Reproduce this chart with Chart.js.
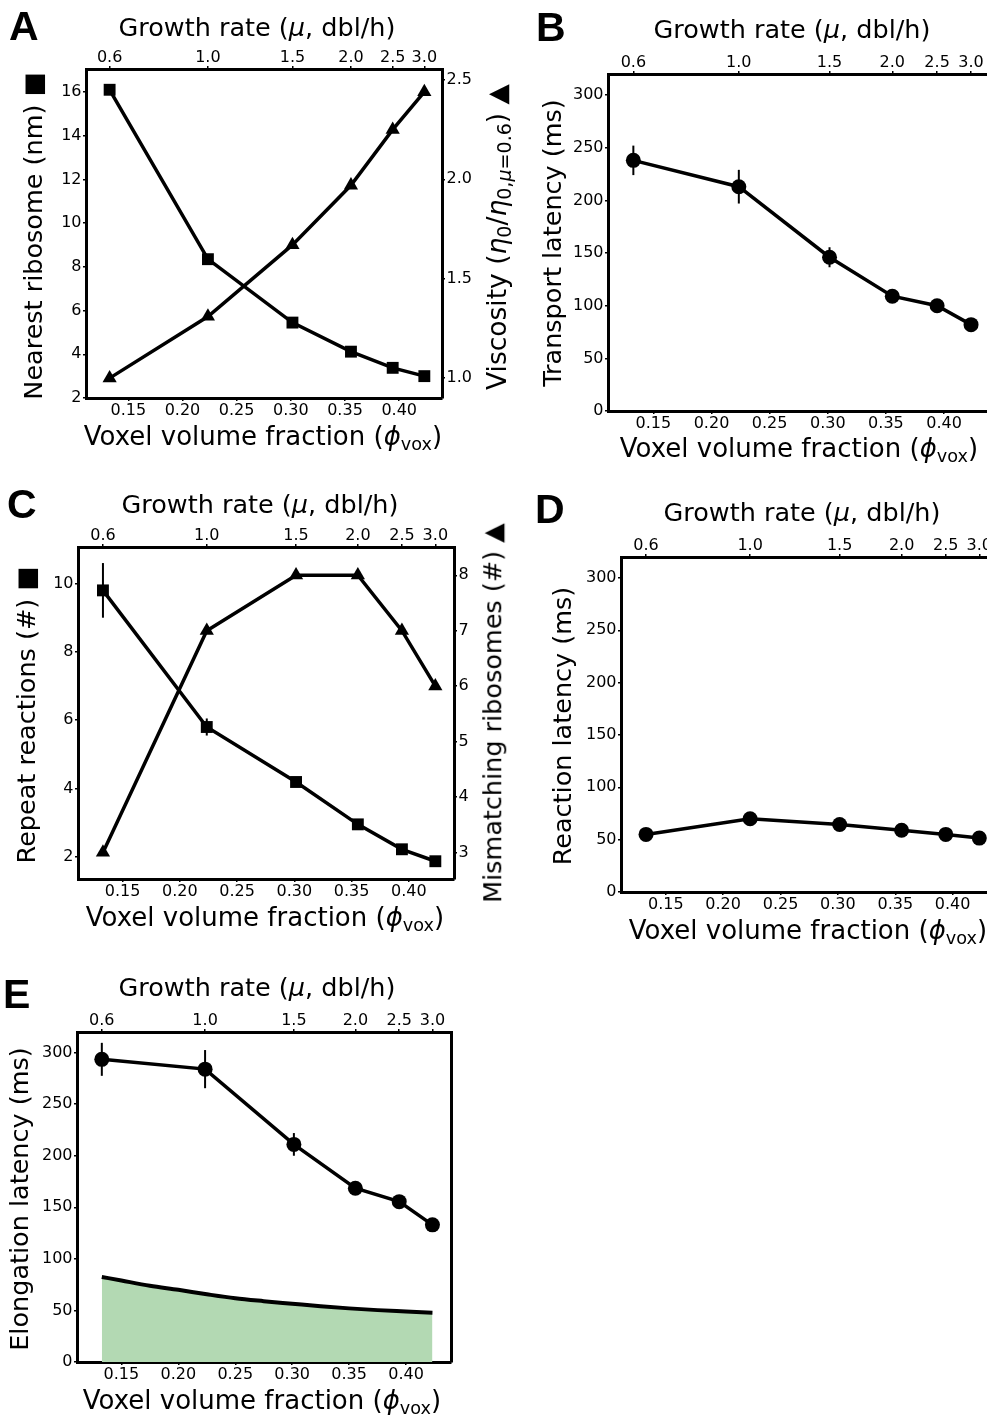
<!DOCTYPE html>
<html><head><meta charset="utf-8">
<script src="https://cdn.jsdelivr.net/npm/chart.js@4.4.1/dist/chart.umd.min.js"></script>
<style>
html,body{margin:0;padding:0;background:#fff;}
body{width:987px;height:1417px;overflow:hidden;position:relative;}
canvas{position:absolute;}
.t{position:absolute;font-family:"DejaVu Sans";font-size:25.5px;color:#000;white-space:nowrap;transform:translate(-50%,-50%);line-height:1;}
.t.r{transform:translate(-50%,-50%) rotate(-90deg);}
.L{position:absolute;font-family:"Liberation Sans";font-weight:bold;font-size:41px;line-height:1;color:#000;}
sub{font-size:0.68em;vertical-align:-0.28em;line-height:0;}
.big sub{font-size:0.72em;}
</style></head>
<body>
<script>
// ---------------- data ----------------
const phi = [0.1328, 0.2235, 0.3015, 0.3555, 0.394, 0.4232];          // voxel volume fraction
const growthTicks = ['0.6', '1.0', '1.5', '2.0', '2.5', '3.0'];       // growth rate labels (top axis)
const phiTicks = [0.15, 0.20, 0.25, 0.30, 0.35, 0.40];                // bottom axis ticks
const nearestRibosome = [16.1, 8.35, 5.45, 4.12, 3.38, 3.0];
const viscosity = [1.0, 1.31, 1.67, 1.97, 2.25, 2.44];
const transportLatency = [238, 213, 146, 109, 100, 82];
const transportErr = [14, 16, 9.5, 3, 3, 2];
const repeatReactions = [9.8, 5.8, 4.19, 2.95, 2.22, 1.87];
const repeatErr = [0.8, 0.25, 0.1, 0.08, 0.05, 0.05];
const mismatching = [3, 7, 8, 8, 7, 6];
const reactionLatency = [55, 70, 64.5, 59, 55, 51.5];
const elongationLatency = [293.5, 284, 211, 168.5, 155.5, 133];
const elongationErr = [16, 18.5, 11, 5, 3, 2];
const limitPhi = [0.1328, 0.15, 0.175, 0.20, 0.225, 0.25, 0.275, 0.30, 0.325, 0.35, 0.375, 0.40, 0.4232];
const limitLatency = [82.5, 79, 74, 70, 65.7, 61.8, 59, 56.5, 54, 52, 50.3, 49, 47.8];
const ticksA_left = [2, 4, 6, 8, 10, 12, 14, 16];
const ticksA_right = [1.0, 1.5, 2.0, 2.5];
const ticksC_left = [2, 4, 6, 8, 10];
const ticksC_right = [3, 4, 5, 6, 7, 8];
const ticksLatency = [0, 50, 100, 150, 200, 250, 300];

// ---------------- helpers ----------------
const X_MIN = 0.111, X_MAX = 0.4395;
const PAD = {L: 70, R: 60, T: 45, B: 35};
const tickFont = {family: "'DejaVu Sans'", size: 16};
const BLACK = '#000';

function pts(xs, ys) { return xs.map((x, i) => ({x: x, y: ys[i]})); }

const errorBarPlugin = {
  id: 'errbars',
  afterDatasetsDraw(chart) {
    const ctx = chart.ctx;
    chart.data.datasets.forEach(ds => {
      if (!ds.errorBars) return;
      const xs = chart.scales[ds.xAxisID || 'x'], ys = chart.scales[ds.yAxisID || 'y'];
      ctx.save();
      ctx.strokeStyle = BLACK; ctx.lineWidth = 2;
      ds.data.forEach((p, j) => {
        const e = ds.errorBars[j];
        const x = xs.getPixelForValue(p.x);
        ctx.beginPath();
        ctx.moveTo(x, ys.getPixelForValue(p.y - e));
        ctx.lineTo(x, ys.getPixelForValue(p.y + e));
        ctx.stroke();
      });
      ctx.restore();
    });
  }
};

function gridOpts(show) {
  return {drawOnChartArea: false, drawTicks: show, tickLength: 3, color: BLACK, lineWidth: 1.5};
}
const border = {display: true, color: BLACK, width: 3};

function xBottom() {
  return {type: 'linear', position: 'bottom', min: X_MIN, max: X_MAX,
    afterBuildTicks: s => { s.ticks = phiTicks.map(v => ({value: v})); },
    afterFit: s => { s.height = PAD.B; },
    ticks: {font: tickFont, color: BLACK, maxRotation: 0, minRotation: 0, autoSkip: false, padding: 0,
      callback: v => Number(v).toFixed(2)},
    grid: gridOpts(true), border: border};
}
function xTop() {
  return {type: 'linear', position: 'top', min: X_MIN, max: X_MAX,
    afterBuildTicks: s => { s.ticks = phi.map(v => ({value: v})); },
    afterFit: s => { s.height = PAD.T; },
    ticks: {font: tickFont, color: BLACK, maxRotation: 0, minRotation: 0, autoSkip: false, padding: -1.5,
      callback: (v, i) => growthTicks[i]},
    grid: gridOpts(true), border: border};
}
function yAxis(pos, min, max, tickVals, fmt) {
  return {type: 'linear', position: pos, min: min, max: max,
    afterBuildTicks: s => { s.ticks = tickVals.map(v => ({value: v})); },
    afterFit: s => { s.width = pos === 'left' ? PAD.L : PAD.R; },
    ticks: {font: tickFont, color: BLACK, padding: pos === 'left' ? 1.5 : 1.5, autoSkip: false, callback: fmt},
    grid: gridOpts(true), border: border};
}
function yDummyRight() {
  return {type: 'linear', position: 'right', min: 0, max: 1,
    afterFit: s => { s.width = PAD.R; },
    ticks: {display: false}, grid: gridOpts(false), border: border};
}
function lineDs(data, style, radius, extra) {
  return Object.assign({data: data, borderColor: BLACK, borderWidth: 3.5, backgroundColor: BLACK,
    pointBackgroundColor: BLACK, pointBorderColor: BLACK, pointBorderWidth: 0,
    pointStyle: style, pointRadius: radius, fill: false, tension: 0}, extra || {});
}

function panel(box, datasets, scales) {
  const c = document.createElement('canvas');
  const w = box.R - box.L + PAD.L + PAD.R, h = box.B - box.T + PAD.T + PAD.B;
  c.width = w; c.height = h;
  c.style.left = (box.L - PAD.L) + 'px'; c.style.top = (box.T - PAD.T) + 'px';
  c.style.width = w + 'px'; c.style.height = h + 'px';
  document.body.appendChild(c);
  new Chart(c, {
    type: 'line',
    data: {datasets: datasets},
    options: {responsive: false, animation: false, devicePixelRatio: 1,
      layout: {padding: 0},
      plugins: {legend: {display: false}, tooltip: {enabled: false}},
      scales: scales},
    plugins: [errorBarPlugin]
  });
}
function txt(html, x, y, rot, size, extraCls) {
  const d = document.createElement('div');
  d.className = 't' + (rot ? ' r' : '') + (extraCls ? ' ' + extraCls : '');
  d.innerHTML = html;
  d.style.left = x + 'px'; d.style.top = y + 'px';
  if (size) d.style.fontSize = size + 'px';
  document.body.appendChild(d);
}

const f1 = v => Number(v).toFixed(1);
const f0 = v => String(v);

// ---------------- Panel A ----------------
panel({L: 86, R: 442, T: 69, B: 398}, [
  lineDs(pts(phi, nearestRibosome), 'rect', 8.4, {yAxisID: 'y'}),
  lineDs(pts(phi, viscosity), 'triangle', 8.2, {yAxisID: 'y2'})
], {x: xBottom(), xTop: xTop(),
    y: yAxis('left', 2, 17.05, ticksA_left, f0),
    y2: yAxis('right', 0.9, 2.555, ticksA_right, f1)});

// ---------------- Panel B ----------------
panel({L: 608, R: 990, T: 74, B: 411}, [
  lineDs(pts(phi, transportLatency), 'circle', 7.5, {errorBars: transportErr})
], {x: xBottom(), xTop: xTop(), y: yAxis('left', 0, 320, ticksLatency, f0), yR: yDummyRight()});

// ---------------- Panel C ----------------
panel({L: 78, R: 454, T: 547, B: 879}, [
  lineDs(pts(phi, repeatReactions), 'rect', 8.4, {yAxisID: 'y', errorBars: repeatErr}),
  lineDs(pts(phi, mismatching), 'triangle', 8.2, {yAxisID: 'y2'})
], {x: xBottom(), xTop: xTop(),
    y: yAxis('left', 1.35, 11.07, ticksC_left, f0),
    y2: yAxis('right', 2.52, 8.51, ticksC_right, f0)});

// ---------------- Panel D ----------------
panel({L: 621, R: 998, T: 557, B: 892}, [
  lineDs(pts(phi, reactionLatency), 'circle', 7.5)
], {x: xBottom(), xTop: xTop(), y: yAxis('left', 0, 320, ticksLatency, f0), yR: yDummyRight()});

// ---------------- Panel E ----------------
panel({L: 77, R: 451, T: 1032, B: 1362}, [
  lineDs(pts(phi, elongationLatency), 'circle', 7.5, {errorBars: elongationErr}),
  lineDs(pts(limitPhi, limitLatency), 'circle', 0, {fill: 'origin', backgroundColor: 'rgb(179,217,179)',
    borderWidth: 4, cubicInterpolationMode: 'monotone'})
], {x: xBottom(), xTop: xTop(), y: yAxis('left', 0, 320, ticksLatency, f0), yR: yDummyRight()});

// ---------------- Text ----------------
const GR = 'Growth rate (<i>μ</i>, dbl/h)';
const VF = 'Voxel volume fraction (<i>ϕ</i><sub>vox</sub>)';
txt(GR, 257, 28); txt(VF, 263, 436, false, 26);
txt('Nearest ribosome (nm) ■', 34, 236, true);
txt('Viscosity (<i>η</i><sub>0</sub>/<i>η</i><sub>0,<i>μ</i>=0.6</sub>) ▲', 497, 237, true, 26.5, 'big');
txt(GR, 792, 30); txt(VF, 799, 448, false, 26);
txt('Transport latency (ms)', 553, 243, true);
txt(GR, 260, 505); txt(VF, 265, 917, false, 26);
txt('Repeat reactions (#) ■', 27, 715, true);
txt('Mismatching ribosomes (#) ▲', 493, 713, true);
txt(GR, 802, 513); txt(VF, 808, 930, false, 26);
txt('Reaction latency (ms)', 563, 726, true);
txt(GR, 257, 988); txt(VF, 262, 1400, false, 26);
txt('Elongation latency (ms)', 20, 1199, true);

function letter(ch, x, y) {
  const d = document.createElement('div');
  d.className = 'L'; d.textContent = ch;
  d.style.left = x + 'px'; d.style.top = y + 'px';
  document.body.appendChild(d);
}
letter('A', 9, 6); letter('B', 536, 7); letter('C', 7, 484); letter('D', 535, 489); letter('E', 3, 974);
</script>
</body></html>
